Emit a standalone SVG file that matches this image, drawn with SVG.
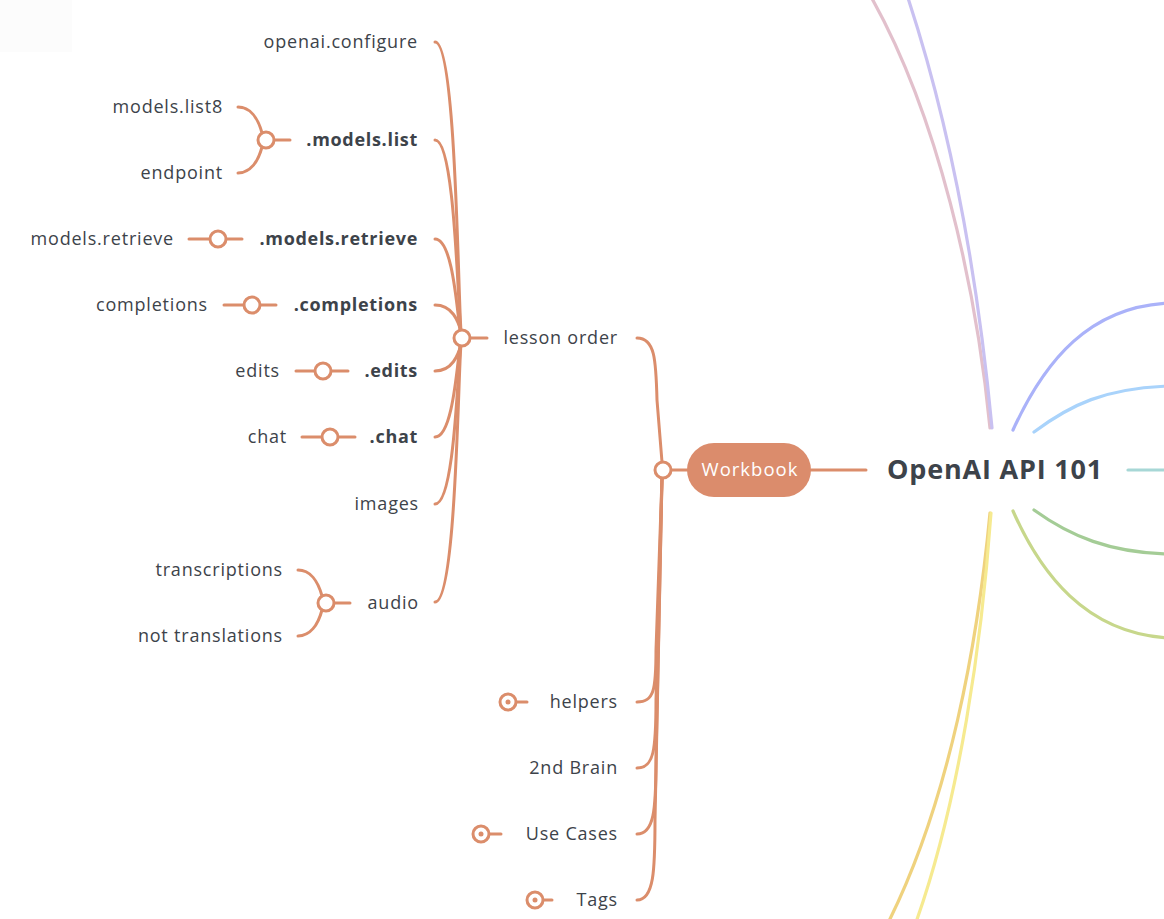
<svg xmlns="http://www.w3.org/2000/svg" width="1164" height="919" viewBox="0 0 1164 919">
<style>
.t{font-family:"Open Sans","Liberation Sans",sans-serif;font-size:18px;letter-spacing:0.8px;fill:#3d434a;text-anchor:end}
.b{font-weight:700;letter-spacing:0.7px}
.c{fill:none;stroke:#db8d6b;stroke-width:3;stroke-linecap:round}
.k{fill:#fff;stroke:#db8d6b;stroke-width:3}
.dot{fill:#db8d6b}
.m{fill:none;stroke-width:3.2;stroke-linecap:round}
</style>
<rect x="0" y="0" width="72" height="52" fill="#fcfcfc"/>
<g id="connectors">
  <path class="m" stroke="#e2c0cc" d="M990,428 C976,285 938,115 870,-5"/>
  <path class="m" stroke="#c9c1f1" d="M992,428 C979,290 955,140 907,-5"/>
  <path class="m" stroke="#aab2f9" d="M1013,430 C1045,360 1090,306 1170,303"/>
  <path class="m" stroke="#a9d3fb" d="M1034,432 C1070,405 1105,388 1170,386"/>
  <path class="m" stroke="#a7d7d6" d="M1128,470 L1170,470"/>
  <path class="m" stroke="#a4cc96" d="M1034,510 C1070,536 1110,553 1170,554"/>
  <path class="m" stroke="#c7d78b" d="M1013,511 C1040,572 1085,634 1170,638"/>
  <path class="m" stroke="#efd27e" d="M990,513 C978,640 950,800 887,925"/>
  <path class="m" stroke="#f6ea90" d="M991,513 C982,640 960,800 915,925"/>
  <path class="c" d="M811,470 L866,470"/>
  <path class="c" d="M671,470 L687,470"/>
  <path class="c" d="M637,338 C655,338 656,360 657,400 L662,462"/>
  <path class="c" d="M637,702 C654,702 656,690 656,650 L662,478"/>
  <path class="c" d="M637,768 C654,768 656,750 656,700 L662,478"/>
  <path class="c" d="M637,834 C654,834 656,810 656,760 L662,478"/>
  <path class="c" d="M637,900 C654,900 655,870 655,820 L662,478"/>
  <path class="c" d="M470,338 L487,338"/>
  <path class="c" d="M435,42 C458,42 458,338 462,338"/>
  <path class="c" d="M435,140 C457,140 458,338 462,338"/>
  <path class="c" d="M435,239 C456,239 458,338 462,338"/>
  <path class="c" d="M435,305 C452,305 458,320 462,334"/>
  <path class="c" d="M435,371 C452,371 458,356 462,342"/>
  <path class="c" d="M435,437 C456,437 458,338 462,338"/>
  <path class="c" d="M435,504 C457,504 458,338 462,338"/>
  <path class="c" d="M435,602 C458,602 458,338 462,338"/>
  <path class="c" d="M274,140 L290,140"/>
  <path class="c" d="M238,107 C250,107 258,118 262,133"/>
  <path class="c" d="M238,173 C250,173 258,162 262,147"/>
  <path class="c" d="M189,239 L242,239"/>
  <path class="c" d="M224,305 L276,305"/>
  <path class="c" d="M296,371 L348,371"/>
  <path class="c" d="M302,437 L355,437"/>
  <path class="c" d="M334,603 L350,603"/>
  <path class="c" d="M298,570 C310,570 318,581 322,596"/>
  <path class="c" d="M298,636 C310,636 318,625 322,610"/>
  <path class="c" d="M516,702 L527,702"/>
  <path class="c" d="M489,834 L501,834"/>
  <path class="c" d="M543,900 L552,900"/>
</g>
<g id="fork-circles">
  <circle class="k" cx="462" cy="338" r="8"/>
  <circle class="k" cx="663" cy="470" r="8"/>
  <circle class="k" cx="266" cy="140" r="8"/>
  <circle class="k" cx="218" cy="239" r="8"/>
  <circle class="k" cx="252" cy="305" r="8"/>
  <circle class="k" cx="323" cy="371" r="8"/>
  <circle class="k" cx="330" cy="437" r="8"/>
  <circle class="k" cx="326" cy="603" r="8"/>
  <circle class="k" cx="508" cy="702" r="8"/><circle class="dot" cx="508" cy="702" r="2.5"/>
  <circle class="k" cx="481" cy="834" r="8"/><circle class="dot" cx="481" cy="834" r="2.5"/>
  <circle class="k" cx="535" cy="900" r="8"/><circle class="dot" cx="535" cy="900" r="2.5"/>
</g>
<g id="root"><text x="995" y="479" style="font-family:'Open Sans','Liberation Sans',sans-serif;font-size:27px;font-weight:700;letter-spacing:0.8px;fill:#3d434a;text-anchor:middle">OpenAI API 101</text></g>
<g id="workbook">
  <rect x="687" y="443" width="124" height="54" rx="27" fill="#db8c6c"/>
  <text x="750" y="476" style="font-family:'Open Sans','Liberation Sans',sans-serif;font-size:18.5px;letter-spacing:1px;fill:#fff;text-anchor:middle">Workbook</text>
</g>
<g id="lesson-order"><text class="t" x="618" y="344">lesson order</text></g>
<g id="openai-configure"><text class="t" x="418" y="48">openai.configure</text></g>
<g id="models-list"><text class="t b" x="418" y="146">.models.list</text></g>
<g id="models-list8"><text class="t" x="223" y="113">models.list8</text></g>
<g id="endpoint"><text class="t" x="223" y="179">endpoint</text></g>
<g id="models-retrieve-b"><text class="t b" x="418" y="245">.models.retrieve</text></g>
<g id="models-retrieve"><text class="t" x="174" y="245">models.retrieve</text></g>
<g id="completions-b"><text class="t b" x="418" y="311">.completions</text></g>
<g id="completions"><text class="t" x="208" y="311">completions</text></g>
<g id="edits-b"><text class="t b" x="418" y="377">.edits</text></g>
<g id="edits"><text class="t" x="280" y="377">edits</text></g>
<g id="chat-b"><text class="t b" x="418" y="443">.chat</text></g>
<g id="chat"><text class="t" x="287" y="443">chat</text></g>
<g id="images"><text class="t" x="419" y="510">images</text></g>
<g id="audio"><text class="t" x="419" y="609">audio</text></g>
<g id="transcriptions"><text class="t" x="283" y="576">transcriptions</text></g>
<g id="not-translations"><text class="t" x="283" y="642">not translations</text></g>
<g id="helpers"><text class="t" x="618" y="708">helpers</text></g>
<g id="second-brain"><text class="t" x="618" y="774">2nd Brain</text></g>
<g id="use-cases"><text class="t" x="618" y="840">Use Cases</text></g>
<g id="tags"><text class="t" x="618" y="906">Tags</text></g>
</svg>
